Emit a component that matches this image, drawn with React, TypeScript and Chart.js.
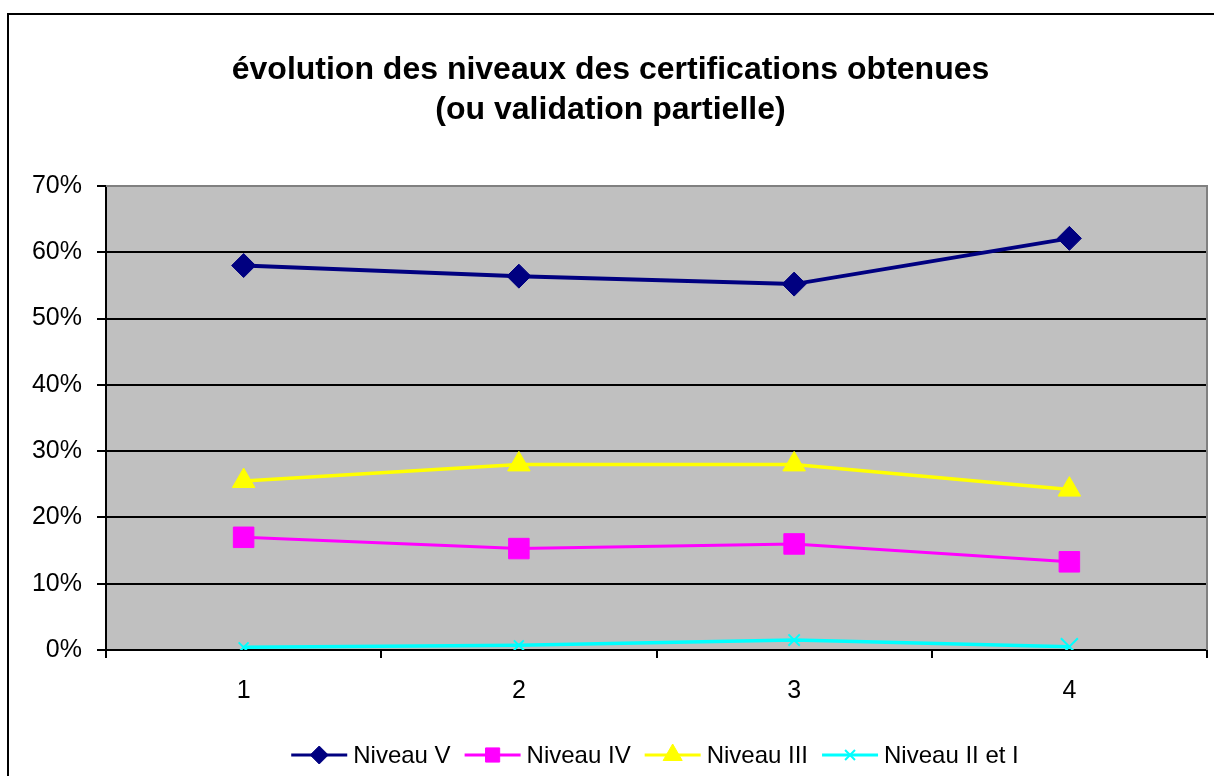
import React, { useEffect, useRef } from 'react';
import { Chart, registerables } from 'chart.js';
import { drawPoint } from 'chart.js/helpers';

Chart.register(...registerables);

const categories = ['1', '2', '3', '4'];
const seriesNames = ['Niveau V', 'Niveau IV', 'Niveau III', 'Niveau II et I'];
const niveauV = [58.0, 56.4, 55.2, 62.1];
const niveauIV = [17.0, 15.3, 16.0, 13.3];
const niveauIII = [25.5, 28.0, 28.0, 24.2];
const niveauIIetI = [0.4, 0.7, 1.5, 0.5];
const titleLines = ['évolution des niveaux des certifications obtenues', '(ou validation partielle)'];
const yMin = 0;
const yMax = 70;
const yStep = 10;

const FONT = '"Liberation Sans", Arial, sans-serif';

const framePlugin = {
  id: 'frame',
  beforeDraw(chart: any) {
    const { ctx, chartArea } = chart;
    ctx.save();
    ctx.fillStyle = '#ffffff';
    ctx.fillRect(0, 0, chart.width, chart.height);
    ctx.strokeStyle = '#000000';
    ctx.lineWidth = 2;
    ctx.strokeRect(8, 14, 1400, 1000);
    ctx.fillStyle = '#C0C0C0';
    ctx.fillRect(chartArea.left, chartArea.top, chartArea.right - chartArea.left, chartArea.bottom - chartArea.top);
    ctx.restore();
  },
  beforeDatasetsDraw(chart: any) {
    const { ctx, chartArea } = chart;
    ctx.save();
    ctx.strokeStyle = '#808080';
    ctx.lineWidth = 2;
    ctx.beginPath();
    ctx.moveTo(chartArea.left, chartArea.top);
    ctx.lineTo(chartArea.right, chartArea.top);
    ctx.lineTo(chartArea.right, chartArea.bottom);
    ctx.stroke();
    ctx.restore();
  },
};

const legendMarkers: Record<string, number> = { rectRot: 9, rect: 10, triangle: 11, crossRot: 7 };

const legendPlugin = {
  id: 'customLegend',
  afterDraw(chart: any) {
    const ctx = chart.ctx;
    ctx.save();
    ctx.font = `24px ${FONT}`;
    const lineLen = 56;
    const gapText = 6;
    const gapItem = 14;
    const items = chart.data.datasets.map((ds: any) => ({ ds, w: ctx.measureText(ds.label).width }));
    const total = items.reduce((s: number, it: any) => s + lineLen + gapText + it.w, 0) + gapItem * (items.length - 1);
    let x = 655 - total / 2;
    const y = 755;
    items.forEach(({ ds, w }: any) => {
      ctx.strokeStyle = ds.borderColor;
      ctx.lineWidth = 3;
      ctx.beginPath();
      ctx.moveTo(x, y);
      ctx.lineTo(x + lineLen, y);
      ctx.stroke();
      ctx.fillStyle = ds.borderColor;
      ctx.strokeStyle = ds.borderColor;
      ctx.lineWidth = ds.pointStyle === 'crossRot' ? 2 : 1;
      drawPoint(ctx, { pointStyle: ds.pointStyle, radius: legendMarkers[ds.pointStyle], borderWidth: ctx.lineWidth, rotation: 0 } as any, x + lineLen / 2, y);
      ctx.fillStyle = '#000000';
      ctx.textAlign = 'left';
      ctx.textBaseline = 'middle';
      ctx.fillText(ds.label, x + lineLen + gapText, y + 1);
      x += lineLen + gapText + w + gapItem;
    });
    ctx.restore();
  },
};

export default function App() {
  const ref = useRef<HTMLCanvasElement>(null);
  useEffect(() => {
    if (!ref.current) return;
    const chart = new Chart(ref.current, {
      type: 'line',
      data: {
        labels: categories,
        datasets: [
          {
            label: seriesNames[0],
            data: niveauV,
            borderColor: '#000080',
            backgroundColor: '#000080',
            borderWidth: 4,
            pointStyle: 'rectRot',
            pointRadius: 12,
            pointBorderWidth: 1,
          },
          {
            label: seriesNames[1],
            data: niveauIV,
            borderColor: '#FF00FF',
            backgroundColor: '#FF00FF',
            borderWidth: 3,
            pointStyle: 'rect',
            pointRadius: 14.5,
            pointBorderWidth: 1,
          },
          {
            label: seriesNames[2],
            data: niveauIII,
            borderColor: '#FFFF00',
            backgroundColor: '#FFFF00',
            borderWidth: 3.5,
            pointStyle: 'triangle',
            pointRadius: 13,
            pointBorderWidth: 1,
          },
          {
            label: seriesNames[3],
            data: niveauIIetI,
            borderColor: '#00FFFF',
            backgroundColor: '#00FFFF',
            borderWidth: 3.5,
            pointStyle: 'crossRot',
            pointRadius: [7, 7, 8, 12],
            pointBorderWidth: 2,
          },
        ] as any,
      },
      options: {
        responsive: false,
        animation: false,
        layout: { autoPadding: false, padding: { left: 14, right: 7, top: 0, bottom: 0 } },
        elements: { line: { tension: 0 } },
        plugins: {
          legend: { display: false },
          tooltip: { enabled: false },
          title: {
            display: true,
            text: titleLines,
            color: '#000000',
            font: { family: FONT, size: 32, weight: 'bold', lineHeight: 40 / 32 },
            padding: { top: 50, bottom: 56 },
          },
        },
        scales: {
          x: {
            type: 'category',
            offset: true,
            border: { color: '#000000', width: 2 },
            grid: {
              offset: true,
              drawOnChartArea: false,
              drawTicks: true,
              tickLength: 8,
              color: '#000000',
              lineWidth: 2,
            },
            ticks: { color: '#000000', font: { family: FONT, size: 25 }, padding: 18, maxRotation: 0 },
            afterFit(scale: any) {
              scale.height = 126;
            },
          },
          y: {
            min: yMin,
            max: yMax,
            border: { color: '#000000', width: 2 },
            grid: {
              color: (c: any) => (c.tick && c.tick.value === yMax ? '#808080' : '#000000'),
              lineWidth: 2,
              tickColor: '#000000',
              tickWidth: 2,
              tickLength: 9,
              drawTicks: true,
            },
            ticks: {
              stepSize: yStep,
              color: '#000000',
              font: { family: FONT, size: 25 },
              padding: 15,
              callback: (v: any) => `${v}%`,
            },
            afterFit(scale: any) {
              scale.width = 92;
            },
          },
        },
      },
      plugins: [framePlugin, legendPlugin],
    });
    return () => chart.destroy();
  }, []);
  return (
    <div style={{ position: 'absolute', left: 0, top: 0, width: 1214, height: 776 }}>
      <canvas ref={ref} width={1214} height={776} style={{ display: 'block' }} />
    </div>
  );
}
